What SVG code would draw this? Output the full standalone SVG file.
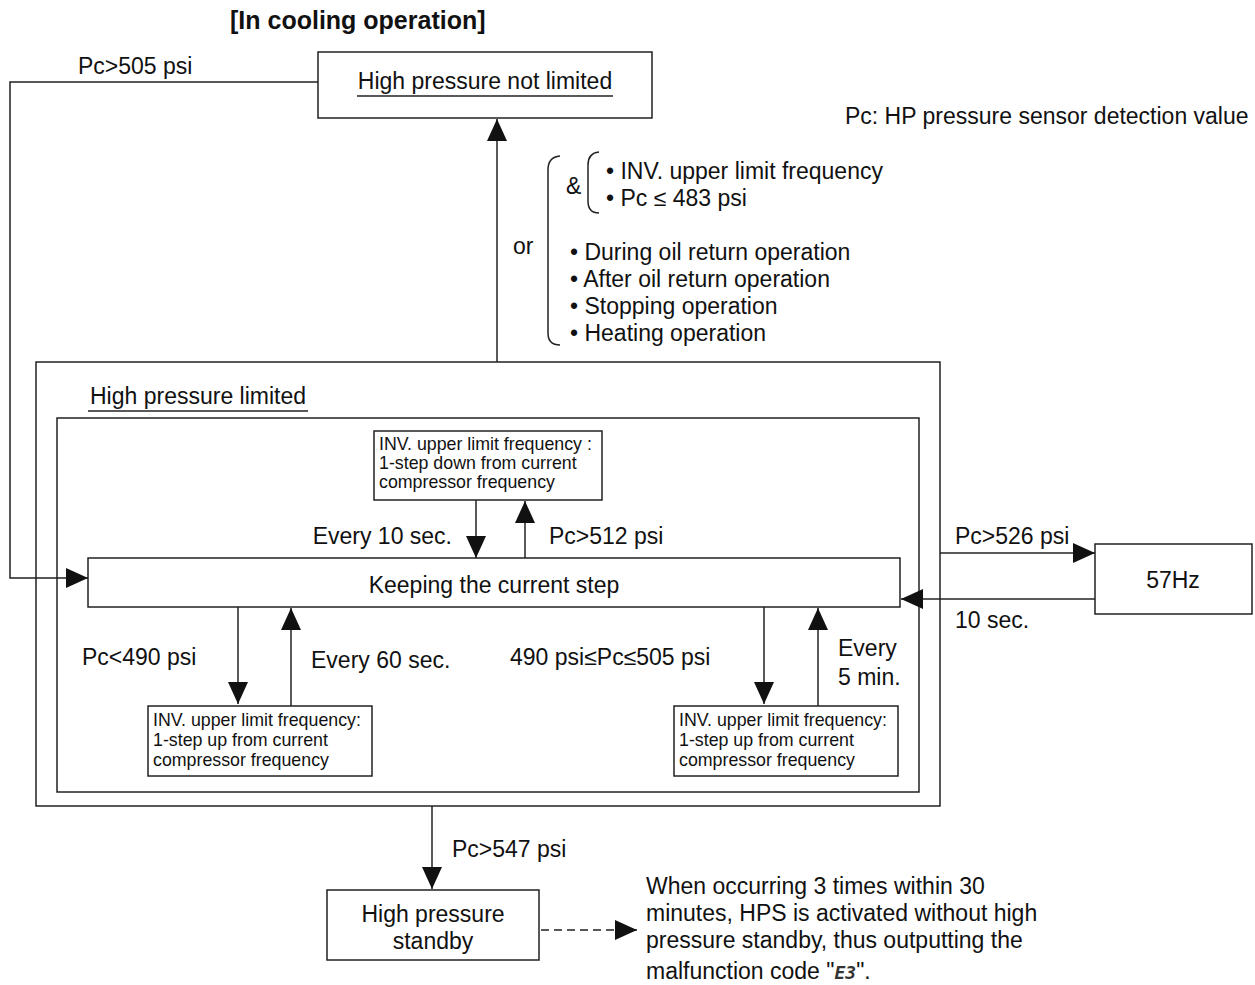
<svg xmlns="http://www.w3.org/2000/svg" width="1255" height="985" viewBox="0 0 1255 985">
  <style>
    .box { fill: #fff; stroke: #222; stroke-width: 1.5; }
    .ln { fill: none; stroke: #222; stroke-width: 1.5; }
    .dash { fill: none; stroke: #222; stroke-width: 1.5; stroke-dasharray: 8 5; }
    .t { font-family: "Liberation Sans", Arial, sans-serif; font-size: 23px; fill: #111; }
    .s { font-family: "Liberation Sans", Arial, sans-serif; font-size: 17.8px; fill: #111; }
    .b { font-family: "Liberation Sans", Arial, sans-serif; font-size: 25px; font-weight: bold; fill: #111; }
    .mid { text-anchor: middle; }
    .end { text-anchor: end; }
  </style>
  <defs>
    <marker id="arr" viewBox="0 0 22 20" refX="22" refY="10" markerWidth="22" markerHeight="20" markerUnits="userSpaceOnUse" orient="auto">
      <path d="M0,0 L22,10 L0,20 z" fill="#111"/>
    </marker>
  </defs>

  <rect width="1255" height="985" fill="#fff"/>

  <text class="b" x="230" y="29">[In cooling operation]</text>
  <text class="t" x="845" y="124">Pc: HP pressure sensor detection value</text>

  <!-- state boxes -->
  <g id="not-limited">
    <rect class="box" x="318" y="52" width="334" height="66"/>
    <text class="t mid" x="485" y="89">High pressure not limited</text>
    <line class="ln" x1="357" y1="96" x2="613" y2="96"/>
  </g>

  <g id="limited">
    <rect class="box" x="36" y="362" width="904" height="444"/>
    <text class="t" x="90" y="404">High pressure limited</text>
    <line class="ln" x1="88" y1="411" x2="308" y2="411"/>
    <rect class="box" x="57" y="418" width="862" height="374"/>
  </g>

  <g id="step-down">
    <rect class="box" x="374" y="431" width="228" height="69"/>
    <text class="s" x="379" y="450">INV. upper limit frequency :</text>
    <text class="s" x="379" y="469">1-step down from current</text>
    <text class="s" x="379" y="488">compressor frequency</text>
  </g>

  <g id="keeping">
    <rect class="box" x="88" y="558" width="812" height="49"/>
    <text class="t mid" x="494" y="593">Keeping the current step</text>
  </g>

  <g id="step-up-left">
    <rect class="box" x="148" y="706" width="224" height="70"/>
    <text class="s" x="153" y="726">INV. upper limit frequency:</text>
    <text class="s" x="153" y="746">1-step up from current</text>
    <text class="s" x="153" y="766">compressor frequency</text>
  </g>

  <g id="step-up-right">
    <rect class="box" x="674" y="706" width="224" height="70"/>
    <text class="s" x="679" y="726">INV. upper limit frequency:</text>
    <text class="s" x="679" y="746">1-step up from current</text>
    <text class="s" x="679" y="766">compressor frequency</text>
  </g>

  <g id="hz57">
    <rect class="box" x="1095" y="544" width="157" height="70"/>
    <text class="t mid" x="1173" y="588">57Hz</text>
  </g>

  <g id="standby">
    <rect class="box" x="327" y="890" width="212" height="70"/>
    <text class="t mid" x="433" y="922">High pressure</text>
    <text class="t mid" x="433" y="949">standby</text>
  </g>

  <g id="note">
    <text class="t" x="646" y="894">When occurring 3 times within 30</text>
    <text class="t" x="646" y="921">minutes, HPS is activated without high</text>
    <text class="t" x="646" y="948">pressure standby, thus outputting the</text>
    <text class="t" x="646" y="979">malfunction code "<tspan font-family="'DejaVu Sans Mono', monospace" font-style="italic" font-weight="bold" font-size="18px" fill="#333">E3</tspan>".</text>
  </g>

  <!-- release conditions -->
  <g id="conditions">
    <path class="ln" d="M560,156 Q548,157 548,170 L548,333 Q548,345 560,345"/>
    <path class="ln" d="M599,152 Q588,153 588,165 L588,201 Q588,213 599,213"/>
    <text class="t" x="566" y="194">&amp;</text>
    <text class="t" x="513" y="254">or</text>
    <text class="t" x="606" y="179">• INV. upper limit frequency</text>
    <text class="t" x="606" y="206">• Pc ≤ 483 psi</text>
    <text class="t" x="570" y="260">• During oil return operation</text>
    <text class="t" x="570" y="287">• After oil return operation</text>
    <text class="t" x="570" y="314">• Stopping operation</text>
    <text class="t" x="570" y="341">• Heating operation</text>
  </g>

  <!-- connectors -->
  <g id="connectors">
    <polyline class="ln" points="318,82 10,82 10,578 88,578" marker-end="url(#arr)"/>
    <line class="ln" x1="497" y1="362" x2="497" y2="119" marker-end="url(#arr)"/>
    <line class="ln" x1="476" y1="500" x2="476" y2="558" marker-end="url(#arr)"/>
    <line class="ln" x1="525" y1="558" x2="525" y2="501" marker-end="url(#arr)"/>
    <line class="ln" x1="238" y1="607" x2="238" y2="704" marker-end="url(#arr)"/>
    <line class="ln" x1="291" y1="706" x2="291" y2="608" marker-end="url(#arr)"/>
    <line class="ln" x1="764" y1="607" x2="764" y2="704" marker-end="url(#arr)"/>
    <line class="ln" x1="818" y1="706" x2="818" y2="608" marker-end="url(#arr)"/>
    <line class="ln" x1="940" y1="553" x2="1095" y2="553" marker-end="url(#arr)"/>
    <line class="ln" x1="1095" y1="599" x2="901" y2="599" marker-end="url(#arr)"/>
    <line class="ln" x1="432" y1="806" x2="432" y2="889" marker-end="url(#arr)"/>
    <line class="dash" x1="541" y1="930" x2="637" y2="930" marker-end="url(#arr)"/>
  </g>

  <!-- connector labels -->
  <g id="labels">
    <text class="t" x="78" y="74">Pc&gt;505 psi</text>
    <text class="t end" x="452" y="544">Every 10 sec.</text>
    <text class="t" x="549" y="544">Pc&gt;512 psi</text>
    <text class="t" x="82" y="665">Pc&lt;490 psi</text>
    <text class="t" x="311" y="668">Every 60 sec.</text>
    <text class="t" x="510" y="665">490 psi≤Pc≤505 psi</text>
    <text class="t" x="838" y="656">Every</text>
    <text class="t" x="838" y="685">5 min.</text>
    <text class="t" x="955" y="544">Pc&gt;526 psi</text>
    <text class="t" x="955" y="628">10 sec.</text>
    <text class="t" x="452" y="857">Pc&gt;547 psi</text>
  </g>
</svg>
